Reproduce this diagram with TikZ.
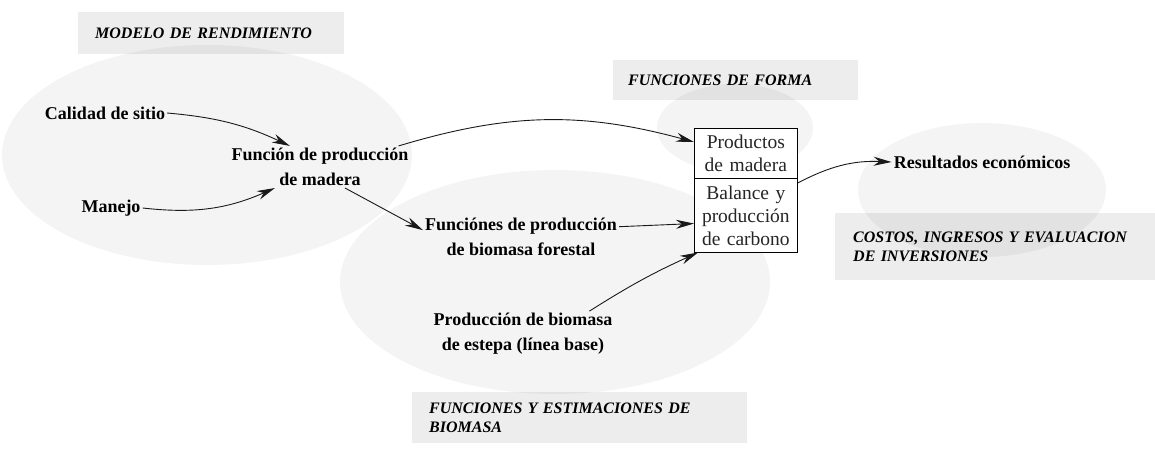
\documentclass[tikz,border=0pt]{standalone}
\usepackage{fontspec}
\setmainfont{Liberation Serif}
\usetikzlibrary{arrows.meta,shapes.multipart}

\begin{document}
\begin{tikzpicture}[x=1pt, y=-1pt, >={Stealth[length=18pt,width=9pt]},
    zone/.style={fill=black, fill opacity=0.045},
    tag/.style={fill=black, fill opacity=0.07, text opacity=1, anchor=north west,
      align=left, font=\bfseries\itshape\fontsize{16}{19.5}\selectfont},
    concept/.style={align=center, inner sep=2pt, font=\bfseries\fontsize{18}{25}\selectfont},
    flow/.style={->, line width=0.9pt, draw=black!90},
    splitbox/.style={rectangle split, rectangle split parts=2, draw, line width=0.7pt,
      fill=white, text width=95pt, align=center, inner xsep=4pt, inner ysep=6.5pt,
      text=black!85, font=\fontsize{19.5}{23}\selectfont}]
  \useasboundingbox (0,0) rectangle (1155,452);
  \fill[white] (0,0) rectangle (1155,452);

  % zonas del modelo
  \fill[zone] (207,155) ellipse [x radius=205pt, y radius=110pt];
  \fill[zone] (555,282) ellipse [x radius=215pt, y radius=112pt];
  \fill[zone] (735,128) ellipse [x radius=78pt, y radius=44pt];
  \fill[zone] (982,190) ellipse [x radius=124pt, y radius=67pt];

  \node[tag, minimum height=42pt, text width=232pt, inner xsep=17pt] (tmodelo) at (78,12) {MODELO DE RENDIMIENTO};
  \node[tag, minimum height=40pt, text width=215pt, inner xsep=15pt] (tforma) at (613,60) {FUNCIONES DE FORMA};
  \node[tag, minimum height=67pt, text width=300pt, inner xsep=18pt] (tcostos) at (835,213) {COSTOS, INGRESOS Y EVALUACION\\DE INVERSIONES};
  \node[tag, minimum height=51pt, text width=301pt, inner xsep=17pt] (tbiomasa) at (412,392) {FUNCIONES Y ESTIMACIONES DE\\BIOMASA};

  % conceptos
  \node[concept] (calidad) at (105,113) {Calidad de sitio};
  \node[concept] (manejo) at (111,208) {Manejo};
  \node[concept] (funmadera) at (320,167) {Función de producción\\de madera};
  \node[concept] (funbiomasa) at (521,237) {Funciónes de producción\\de biomasa forestal};
  \node[concept] (estepa) at (523,334) {Producción de biomasa\\de estepa (línea base)};
  \node[concept] (resultados) at (982,162) {Resultados económicos};
  \node[splitbox, anchor=north west] (balance) at (694,128)
    {Productos\\de madera \nodepart{two} Balance y\\producción\\de carbono};

  % flujos
  \draw[flow] (calidad.east) to[bend left=10] (funmadera.145);
  \draw[flow] (manejo.east) to[bend right=15] (funmadera.205);
  \draw[flow] (funmadera.-40) -- (funbiomasa.176);
  \draw[flow] (funmadera.15) to[bend left=16] ([yshift=-14pt]balance.north west);
  \draw[flow] (funbiomasa.6) -- ([yshift=29pt]balance.south west);
  \draw[flow] (estepa.19) to[bend left=4] ([xshift=4pt]balance.south west);
  \draw[flow] ([yshift=-55pt]balance.north east) to[bend left=15] (resultados.west);
\end{tikzpicture}
\end{document}
